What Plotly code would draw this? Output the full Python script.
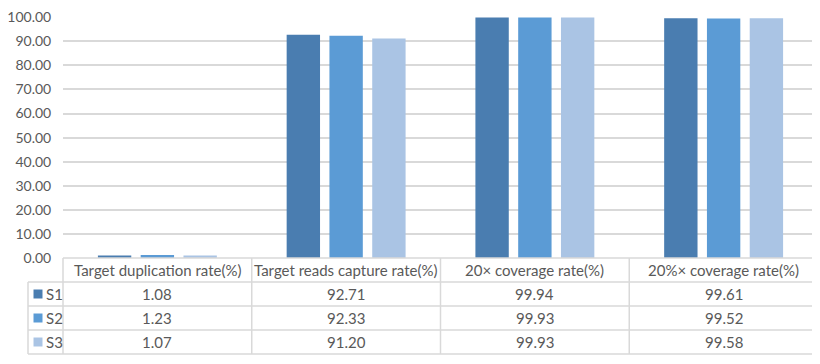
import plotly.graph_objects as go

categories = ["Target duplication rate(%)", "Target reads capture rate(%)",
              "20\u00d7 coverage rate(%)", "20%\u00d7 coverage rate(%)"]
series_names = ["S1", "S2", "S3"]
s1 = [1.08, 92.71, 99.94, 99.61]
s2 = [1.23, 92.33, 99.93, 99.52]
s3 = [1.07, 91.20, 99.93, 99.58]
series_values = [s1, s2, s3]
colors = ["#4a7db0", "#5b9bd5", "#aac4e4"]
y_ticks = [0, 10, 20, 30, 40, 50, 60, 70, 80, 90, 100]

OFF = 8  # page body margin
W, H = 820 - OFF, 364 - OFF
L, R, T, B = 63 - OFF, 10 - OFF, 17 - OFF, 106
pw, ph = W - L - R, H - T - B
FONT = "Lato"
TXT = "#595959"
LINE = "#d9d9d9"

def px(x):
    return (x - OFF - L) / pw

def py(y):
    return (T + ph - (y - OFF)) / ph

fig = go.Figure()
for name, vals, c in zip(series_names, series_values, colors):
    fig.add_trace(go.Bar(x=list(range(len(categories))), y=vals, name=name,
                         marker=dict(color=c, line=dict(width=0)), showlegend=False))

shapes = []
ann = []
row_h = 24
top = 258
nrows = len(series_names)
n = len(categories)
for i in range(nrows + 2):
    yy = top + i * row_h
    x0 = 63 if i == 0 else 28
    shapes.append(dict(type="line", xref="paper", yref="paper", x0=px(x0), x1=1,
                       y0=py(yy), y1=py(yy), line=dict(color=LINE, width=1.5)))
bottom = top + (nrows + 1) * row_h
shapes.append(dict(type="line", xref="paper", yref="paper", x0=px(28), x1=px(28),
                   y0=py(top + row_h), y1=py(bottom), line=dict(color=LINE, width=1.5)))
for j in range(n + 1):
    xx = j / n
    shapes.append(dict(type="line", xref="paper", yref="paper", x0=xx, x1=xx,
                       y0=py(top), y1=py(bottom), line=dict(color=LINE, width=1.5)))
for j, cat in enumerate(categories):
    ann.append(dict(xref="paper", yref="paper", x=(j + 0.5) / n, y=py(top + row_h / 2),
                    text=cat, showarrow=False, xanchor="center", yanchor="middle",
                    font=dict(family=FONT, size=15, color=TXT)))
for i, (name, vals, c) in enumerate(zip(series_names, series_values, colors)):
    yc = top + row_h * (i + 1) + row_h / 2
    shapes.append(dict(type="rect", xref="paper", yref="paper", x0=px(33.5), x1=px(42.5),
                       y0=py(yc - 4.5), y1=py(yc + 4.5), fillcolor=c, line=dict(width=0)))
    ann.append(dict(xref="paper", yref="paper", x=px(44), y=py(yc), text=name,
                    showarrow=False, xanchor="left", yanchor="middle",
                    font=dict(family=FONT, size=15, color=TXT)))
    for j, v in enumerate(vals):
        ann.append(dict(xref="paper", yref="paper", x=(j + 0.5) / n, y=py(yc),
                        text=f"{v:.2f}", showarrow=False, xanchor="center", yanchor="middle",
                        font=dict(family=FONT, size=15, color=TXT)))

fig.update_layout(
    width=W, height=H, margin=dict(l=L, r=R, t=T, b=B, autoexpand=False),
    paper_bgcolor="white", plot_bgcolor="white",
    barmode="group", bargap=0.32, bargroupgap=0.22,
    xaxis=dict(range=[-0.5, n - 0.5], showticklabels=False, showgrid=False,
               zeroline=False, showline=False, automargin=False),
    yaxis=dict(range=[0, 100.1], tickvals=y_ticks, ticktext=[f"{t:.2f}" for t in y_ticks],
               showgrid=True, gridcolor=LINE, gridwidth=1.5, zeroline=False, showline=False,
               tickfont=dict(family=FONT, size=14, color=TXT), ticklen=8, ticks="outside",
               tickcolor="rgba(0,0,0,0)", ticklabeloverflow="allow", automargin=False),
    shapes=shapes, annotations=ann,
)
fig.write_html("out.html")
